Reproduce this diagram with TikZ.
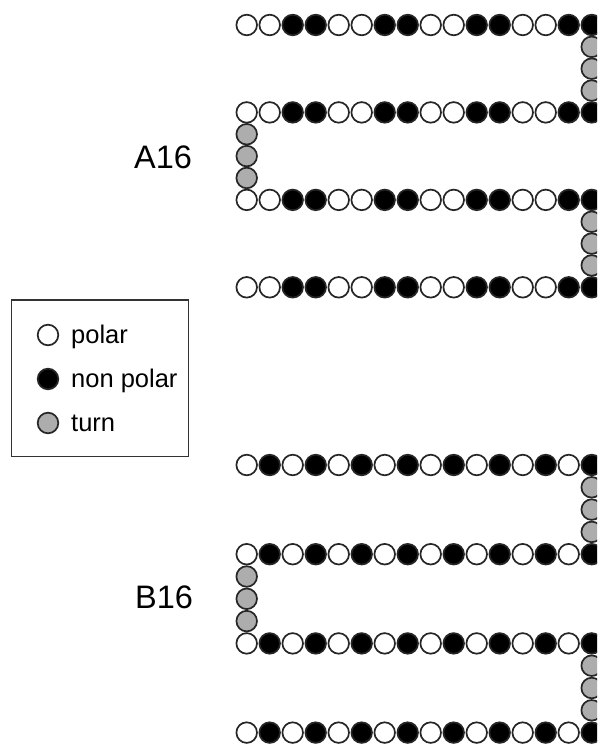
\documentclass[tikz,border=0pt]{standalone}
\usepackage{fontspec}
\setmainfont{Liberation Sans}
\begin{document}
\begin{tikzpicture}[x=1pt,y=-1pt,
  bead/.style={circle,draw=black!85,line width=1.7pt,minimum size=20.6pt,inner sep=0pt},
  polarbead/.style={bead,fill=white},
  nonpolarbead/.style={bead,fill=black},
  turnbead/.style={bead,fill=black!32},
  biglabel/.style={font=\fontsize{32.5}{38}\selectfont,inner sep=0pt,anchor=base},
  legtext/.style={font=\fontsize{25.5}{30}\selectfont,inner sep=0pt,anchor=base west},
  legbox/.style={draw=black!80,line width=1.3pt,inner sep=0pt}]
\useasboundingbox (0,0) rectangle (597,744);
\clip (0,0) rectangle (597,744);

% ---------- A16 ----------
\foreach \t/\x/\y in {1/591.7/25,2/246.7/112.4,3/591.7/199.9}{
  \foreach \k in {1,2,3}{
    \node[turnbead] (At\t-\k) at (\x,{\y+21.85*\k}) {};
  }
}
\foreach \r/\y in {1/25,2/112.4,3/199.9,4/287.3}{
  \foreach \i in {0,...,15}{
    \pgfmathtruncatemacro\kk{mod(floor(\i/2),2)}
    \ifnum\kk=1
      \node[nonpolarbead] (A\r-\i) at ({246.7+23*\i},\y) {};
    \else
      \node[polarbead] (A\r-\i) at ({246.7+23*\i},\y) {};
    \fi
  }
}
\node[biglabel] (labA) at (163,168.5) {A16};

% ---------- B16 ----------
\foreach \t/\x/\y in {1/591.7/465,2/246.7/554.2,3/591.7/643.4}{
  \foreach \k in {1,2,3}{
    \node[turnbead] (Bt\t-\k) at (\x,{\y+22.3*\k}) {};
  }
}
\foreach \r/\y in {1/465,2/554.2,3/643.4,4/732.6}{
  \foreach \i in {0,...,15}{
    \pgfmathtruncatemacro\kk{mod(\i,2)}
    \ifnum\kk=1
      \node[nonpolarbead] (B\r-\i) at ({246.7+23*\i},\y) {};
    \else
      \node[polarbead] (B\r-\i) at ({246.7+23*\i},\y) {};
    \fi
  }
}
\node[biglabel] (labB) at (164,608.5) {B16};

% ---------- legend ----------
\node[legbox,minimum width=176.6pt,minimum height=156.7pt] (legend) at (100,378.35) {};
\node[polarbead] (lp) at (48,335) {};
\node[nonpolarbead] (ln) at (48,379) {};
\node[turnbead] (lt) at (48,423) {};
\node[legtext] (lpt) at (71,343) {polar};
\node[legtext] (lnt) at (71,387) {non polar};
\node[legtext] (ltt) at (71,431) {turn};
\end{tikzpicture}
\end{document}
